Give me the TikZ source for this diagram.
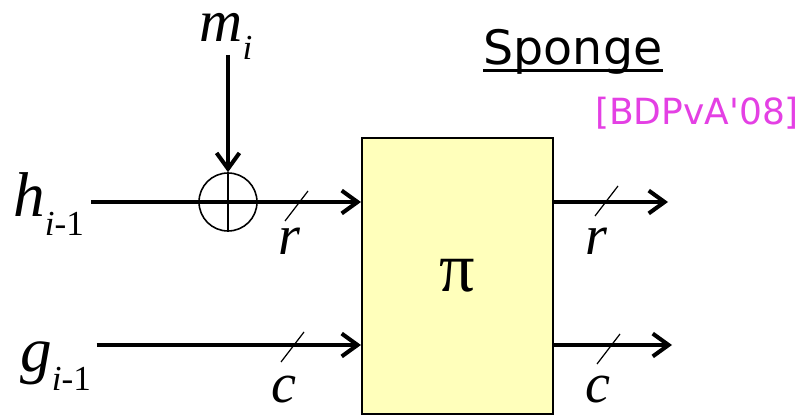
\documentclass[tikz,border=0pt]{standalone}
\usepackage{fontspec}
\setmainfont{Liberation Serif}
\newfontfamily\handfont{DejaVu Sans}
\usepackage{tikz}
\usetikzlibrary{positioning, arrows.meta, calc}
\usepackage{xcolor}
\definecolor{permyellow}{RGB}{255,255,187}
\definecolor{citepink}{RGB}{228,64,228}
\newcommand{\withsub}[2]{\textit{#1}\raisebox{-0.3em}{\fontsize{20}{20}\selectfont #2}}

\begin{document}
\begin{tikzpicture}[x=0.02cm, y=-0.02cm,
    wire/.style={line width=2.3pt, -{Straight Barb[length=9pt, width=13pt]}},
    tick/.style={line width=0.7pt},
    var/.style={font=\fontsize{36}{40}\selectfont, inner sep=0},
    width/.style={font=\fontsize{32}{36}\selectfont, inner sep=0, anchor=base}]
\useasboundingbox (0,0) rectangle (798,418);

% Title and citation
\node[anchor=base, inner sep=0, font=\handfont\fontsize{27}{30}\selectfont] (title) at (573,65) {Sponge};
\draw[line width=1.6pt] ([yshift=-3pt]title.base west) -- ([yshift=-3pt]title.base east);
\node[anchor=base, inner sep=0, text=citepink, font=\handfont\fontsize{20.5}{22}\selectfont] (cite) at (697,125) {[BDPvA'08]};

% Permutation
\node[draw, line width=1.2pt, fill=permyellow, minimum width=3.82cm, minimum height=5.52cm] (pi) at (457.5,276) {\fontsize{40}{42}\selectfont π};

% Inputs
\node[var, anchor=base west] (h) at (13,217) {\withsub{h}{\textit{i}-1}};
\node[var, anchor=base west] (g) at (20,372) {\withsub{g}{\textit{i}-1}};
\node[var, anchor=base, font=\fontsize{34}{38}\selectfont] (m) at (226,42) {\withsub{m}{\textit{i}}};
\node[circle, draw, line width=0.9pt, minimum size=1.16cm, inner sep=0] (xor) at (228,202) {};
\draw[line width=0.9pt] (xor.north) -- (xor.south);

\coordinate (rowc) at (0,345);
\coordinate (outr) at (668,202);
\coordinate (outc) at (672,345);

% Wires
\draw[wire] ([yshift=3pt]m.south -| xor) -- (xor.north);
\draw[wire] ([xshift=4pt]h.east |- xor) -- (pi.west |- xor);
\draw[wire] ([xshift=3pt]g.east |- rowc) -- (pi.west |- rowc);
\draw[wire] (pi.east |- outr) -- (outr);
\draw[wire] (pi.east |- outc) -- (outc);

% Bus widths
\draw[tick] (296,206) ++(-11,15) -- ++(23,-30);
\draw[tick] (292,347) ++(-11,15) -- ++(23,-30);
\draw[tick] (606,201) ++(-11,15) -- ++(23,-30);
\draw[tick] (608,349) ++(-11,15) -- ++(23,-30);
\node[width] (rin) at (290,255) {\textit{r}};
\node[width] (rout) at (597,255) {\textit{r}};
\node[width] (cin) at (284,403) {\textit{c}};
\node[width] (cout) at (598,403) {\textit{c}};
\end{tikzpicture}
\end{document}
